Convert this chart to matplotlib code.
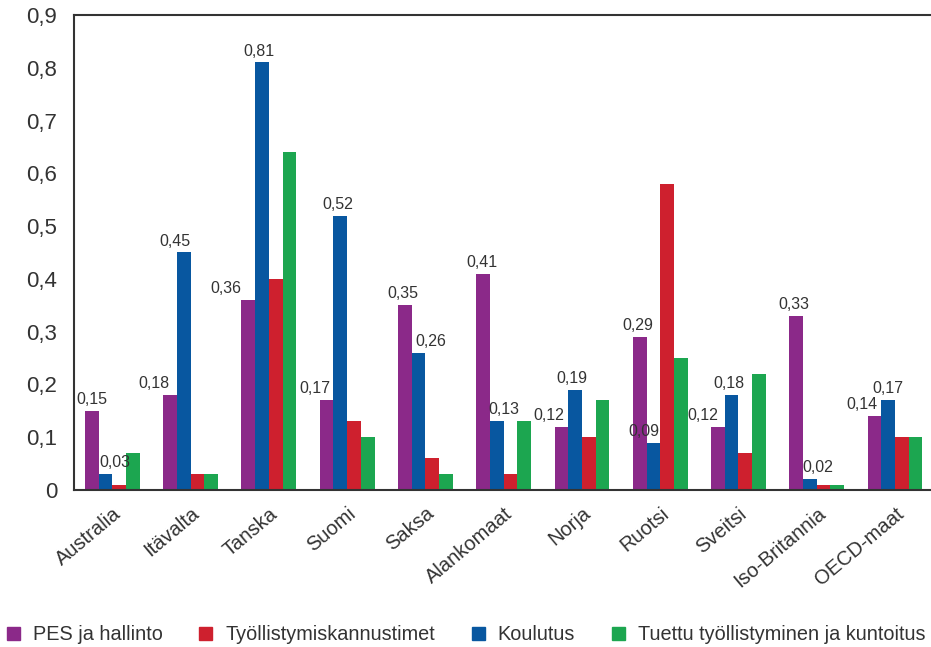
import numpy as np
import matplotlib
matplotlib.use("Agg")
from matplotlib import pyplot as plt
from matplotlib.patches import Patch
from matplotlib.transforms import ScaledTranslation

plt.rcParams['font.family'] = ['Liberation Sans', 'DejaVu Sans']

countries = ["Australia", "Itävalta", "Tanska", "Suomi", "Saksa", "Alankomaat",
             "Norja", "Ruotsi", "Sveitsi", "Iso-Britannia", "OECD-maat"]

# series values (bars drawn in order: PES, Koulutus, Kannustimet, Tuettu)
pes = [0.15, 0.18, 0.36, 0.17, 0.35, 0.41, 0.12, 0.29, 0.12, 0.33, 0.14]
koulutus = [0.03, 0.45, 0.81, 0.52, 0.26, 0.13, 0.19, 0.09, 0.18, 0.02, 0.17]
kannustimet = [0.01, 0.03, 0.40, 0.13, 0.06, 0.03, 0.10, 0.58, 0.07, 0.01, 0.10]
tuettu = [0.07, 0.03, 0.64, 0.10, 0.03, 0.13, 0.17, 0.25, 0.22, 0.01, 0.10]

series_names = ["PES ja hallinto", "Työllistymiskannustimet", "Koulutus",
                "Tuettu työllistyminen ja kuntoitus"]
yticks = [0, 0.1, 0.2, 0.3, 0.4, 0.5, 0.6, 0.7, 0.8, 0.9]

purple = "#8B2989"
blue = "#0857A0"
red = "#CE202E"
green = "#1CA650"

# pixel offsets for the value labels (PES and Koulutus bars only)
pes_label_dx = [0, -16, -22, -12, -2, -1, -13, -2, -15, -2, -13]
kou_label_dx = [9, -9, -3, -2, 12, 7, -3, -9, -3, 8, 0]

fig = plt.figure(figsize=(9.31, 6.47), dpi=100)
ax = fig.add_axes([74 / 931, 1 - 490 / 647, 1 - 74 / 931, 475 / 647])

x = np.arange(len(countries))
w = 0.175
b_pes = ax.bar(x - 1.5 * w, pes, w, color=purple, linewidth=0)
b_kou = ax.bar(x - 0.5 * w, koulutus, w, color=blue, linewidth=0)
ax.bar(x + 0.5 * w, kannustimet, w, color=red, linewidth=0)
ax.bar(x + 1.5 * w, tuettu, w, color=green, linewidth=0)

def fmt(v):
    return ("%.2f" % v).replace(".", ",")

for bars, vals, dxs in [(b_pes, pes, pes_label_dx), (b_kou, koulutus, kou_label_dx)]:
    for rect, v, dx in zip(bars, vals, dxs):
        ax.annotate(fmt(v), (rect.get_x() + rect.get_width() / 2, v),
                    xytext=(dx, 4), textcoords="offset pixels",
                    ha="center", va="bottom", fontsize=11.5, color="#333333")

ax.set_xlim(-0.49, 10.46)
ax.set_ylim(0, 0.9)
ax.set_yticks(yticks)
ax.set_yticklabels([("%.1f" % t).replace(".", ",") if t else "0" for t in yticks],
                   fontsize=16, color="#333333")
ax.set_xticks(x)
ax.set_xticklabels(countries, rotation=40, ha="right", rotation_mode="anchor",
                   fontsize=14.5, color="#333333")
offset = ScaledTranslation(14 / 100, 0, fig.dpi_scale_trans)
for lab in ax.get_xticklabels():
    lab.set_transform(lab.get_transform() + offset)
ax.tick_params(axis="both", length=0)
ax.tick_params(axis="y", pad=12)
ax.tick_params(axis="x", pad=10)

for s in ["left", "top", "bottom"]:
    ax.spines[s].set_color("#333333")
    ax.spines[s].set_linewidth(1.5)
ax.spines["right"].set_visible(False)

handles = [Patch(color=c) for c in [purple, red, blue, green]]
fig.legend(handles, series_names, loc="center left", bbox_to_anchor=(7 / 931, 1 - 635 / 647),
           ncol=4, frameon=False, fontsize=14.3, handlelength=0.65, handleheight=0.65,
           handletextpad=0.65, columnspacing=1.85, borderpad=0, borderaxespad=0,
           labelcolor="#333333")

fig.savefig("out.png", dpi=100)
